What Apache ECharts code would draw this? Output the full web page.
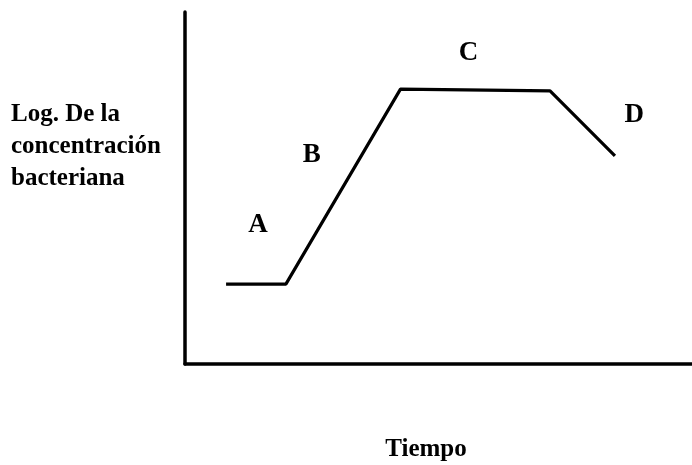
<!DOCTYPE html>
<html>
<head>
<meta charset="utf-8">
<script src="https://cdn.jsdelivr.net/npm/echarts@6/dist/echarts.min.js"></script>
<style>
  html, body { margin: 0; padding: 0; background: #fff; }
  #chart { width: 692px; height: 465px; }
</style>
</head>
<body>
<div id="chart"></div>
<script>
// curva de crecimiento bacteriano (escala 0-100)
var tiempo = [8.1, 19.9, 42.5, 72.0, 84.8];
var logConc = [22.7, 22.7, 78.1, 77.6, 59.1];

// letras de las fases
var fases = ['A', 'B', 'C', 'D'];
var faseX = [14.4, 25.0, 55.9, 88.6];
var faseY = [39.5, 59.4, 88.4, 70.7];

var yTitulo = ['Log. De la', 'concentración', 'bacteriana'];
var xTitulo = 'Tiempo';

var font = '"Liberation Serif", "Times New Roman", serif';

var curva = [];
for (var i = 0; i < tiempo.length; i++) {
    curva.push([tiempo[i], logConc[i]]);
}
var letras = [];
for (var j = 0; j < fases.length; j++) {
    letras.push({ value: [faseX[j], faseY[j]], name: fases[j] });
}

var chart = echarts.init(document.getElementById('chart'));
chart.setOption({
    backgroundColor: '#fff',
    animation: false,
    grid: { left: 185, right: 0, top: 12, bottom: 101 },
    xAxis: {
        type: 'value', min: 0, max: 100,
        axisLine: { show: true, lineStyle: { color: '#000', width: 3.5 } },
        axisTick: { show: false }, axisLabel: { show: false }, splitLine: { show: false }
    },
    yAxis: {
        type: 'value', min: 0, max: 100,
        axisLine: { show: true, lineStyle: { color: '#000', width: 3.5 } },
        axisTick: { show: false }, axisLabel: { show: false }, splitLine: { show: false }
    },
    graphic: [
        {
            type: 'text', left: 11, top: 99,
            style: {
                text: yTitulo.join('\n'),
                font: 'bold 25px ' + font,
                lineHeight: 32,
                fill: '#000'
            }
        },
        {
            type: 'text', x: 426, y: 450,
            style: {
                text: xTitulo,
                font: 'bold 25px ' + font,
                align: 'center',
                verticalAlign: 'middle',
                fill: '#000'
            }
        }
    ],
    series: [
        {
            type: 'line',
            data: curva,
            symbol: 'none',
            lineStyle: { color: '#000', width: 3.2 }
        },
        {
            type: 'scatter',
            data: letras,
            symbolSize: 0,
            itemStyle: { opacity: 1 },
            label: {
                show: true,
                position: 'inside',
                formatter: '{b}',
                color: '#000',
                fontFamily: font,
                fontWeight: 'bold',
                fontSize: 27
            }
        }
    ]
});
</script>
</body>
</html>
